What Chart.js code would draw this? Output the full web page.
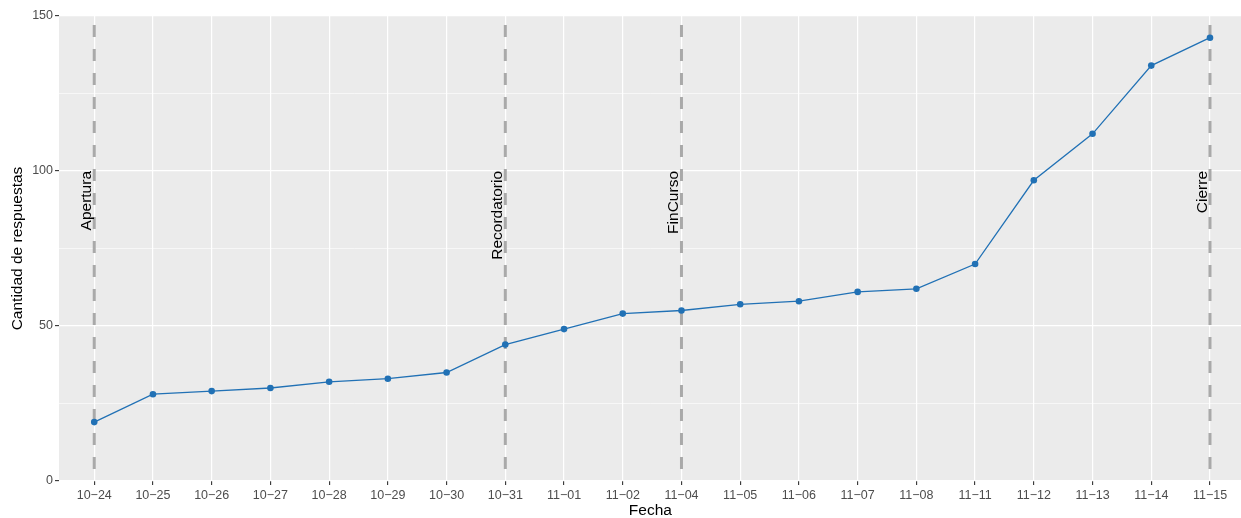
<!DOCTYPE html>
<html>
<head>
<meta charset="utf-8">
<script src="https://cdn.jsdelivr.net/npm/chart.js@4.4.1/dist/chart.umd.min.js"></script>
<style>
  html, body { margin: 0; padding: 0; background: #ffffff; overflow: hidden; }
  #wrap { width: 1245px; height: 518px; }
  canvas { display: block; }
</style>
</head>
<body>
<div id="wrap"><canvas id="c" width="1245" height="518" style="width:1245px;height:518px"></canvas></div>
<script>
// ---- data ----
const categories = ['10\u221224','10\u221225','10\u221226','10\u221227','10\u221228','10\u221229','10\u221230','10\u221231',
                    '11\u221201','11\u221202','11\u221204','11\u221205','11\u221206','11\u221207','11\u221208','11\u221211',
                    '11\u221212','11\u221213','11\u221214','11\u221215'];
const responses = [19, 28, 29, 30, 32, 33, 35, 44, 49, 54, 55, 57, 58, 61, 62, 70, 97, 112, 134, 143];
const yTicks = [0, 25, 50, 75, 100, 125, 150];
const eventDates = ['10\u221224', '10\u221231', '11\u221204', '11\u221215'];
const eventLabels = ['Apertura', 'Recordatorio', 'FinCurso', 'Cierre'];
const eventLabelY = 100;

const FONT = '"Liberation Sans", Arial, Helvetica, sans-serif';

const panelPlugin = {
  id: 'panel',
  beforeDraw(chart) {
    const { ctx, chartArea: a } = chart;
    ctx.save();
    ctx.fillStyle = '#EBEBEB';
    ctx.fillRect(a.left, a.top, a.right - a.left, a.bottom - a.top);
    ctx.restore();
  },
  beforeDatasetsDraw(chart) {
    const { ctx, chartArea: a, scales } = chart;
    const x = scales.x, y = scales.y;
    ctx.save();
    ctx.beginPath();
    ctx.rect(a.left, a.top, a.right - a.left, a.bottom - a.top);
    ctx.clip();
    eventDates.forEach((d, i) => {
      const px = x.getPixelForValue(categories.indexOf(d));
      ctx.save();
      ctx.setLineDash([12, 12]);
      ctx.lineDashOffset = 15;
      ctx.strokeStyle = '#A9A9A9';
      ctx.lineWidth = 3;
      ctx.beginPath();
      ctx.moveTo(px, a.top);
      ctx.lineTo(px, a.bottom);
      ctx.stroke();
      ctx.restore();

      ctx.save();
      ctx.translate(px - 3, y.getPixelForValue(eventLabelY));
      ctx.rotate(-Math.PI / 2);
      ctx.fillStyle = '#000000';
      ctx.font = '15.5px ' + FONT;
      ctx.textAlign = 'right';
      ctx.textBaseline = 'alphabetic';
      ctx.fillText(eventLabels[i], 0, 0);
      ctx.restore();
    });
    ctx.restore();
  }
};

const isMajor = c => c.tick && c.tick.value % 50 === 0;

new Chart(document.getElementById('c'), {
  type: 'line',
  data: {
    datasets: [{
      data: responses.map((v, i) => ({ x: i, y: v })),
      borderColor: '#2171B5',
      backgroundColor: '#2171B5',
      borderWidth: 1.3,
      pointRadius: 3.3,
      pointBorderWidth: 0,
      pointHoverRadius: 3.3,
      tension: 0,
      fill: false
    }]
  },
  options: {
    responsive: false,
    devicePixelRatio: 1,
    animation: false,
    events: [],
    layout: { padding: { top: 16, left: 0, right: 0, bottom: 0 } },
    plugins: { legend: { display: false }, tooltip: { enabled: false }, title: { display: false } },
    scales: {
      x: {
        type: 'linear',
        min: -0.6,
        max: 19.54,
        afterBuildTicks: s => { s.ticks = categories.map((_, i) => ({ value: i })); },
        afterFit: s => { s.height = 37; },
        ticks: {
          callback: v => categories[v],
          color: '#4D4D4D',
          font: { size: 12.5, family: FONT },
          padding: 3,
          maxRotation: 0,
          minRotation: 0,
          autoSkip: false
        },
        grid: {
          color: '#FFFFFF',
          lineWidth: 1.2,
          tickLength: 4,
          tickColor: '#333333',
          tickWidth: 1.1
        },
        border: { display: false },
        title: {
          display: true,
          text: 'Fecha',
          color: '#000000',
          font: { size: 15.5, family: FONT, lineHeight: 1 },
          padding: { top: 0, bottom: 0 }
        }
      },
      y: {
        type: 'linear',
        min: 0,
        max: 150,
        afterBuildTicks: s => { s.ticks = yTicks.map(v => ({ value: v })); },
        afterFit: s => { s.width = 59; },
        ticks: {
          callback: v => (v % 50 === 0 ? String(v) : ''),
          color: '#4D4D4D',
          font: { size: 12.5, family: FONT },
          padding: 2
        },
        grid: {
          color: '#FFFFFF',
          lineWidth: c => (isMajor(c) ? 1.2 : 0.6),
          tickLength: 4,
          tickColor: c => (isMajor(c) ? '#333333' : 'rgba(0,0,0,0)'),
          tickWidth: 1.1
        },
        border: { display: false },
        title: {
          display: true,
          text: 'Cantidad de respuestas',
          color: '#000000',
          font: { size: 15.5, family: FONT, lineHeight: 1 },
          padding: { top: 10, bottom: 0 }
        }
      }
    }
  },
  plugins: [panelPlugin]
});
</script>
</body>
</html>
